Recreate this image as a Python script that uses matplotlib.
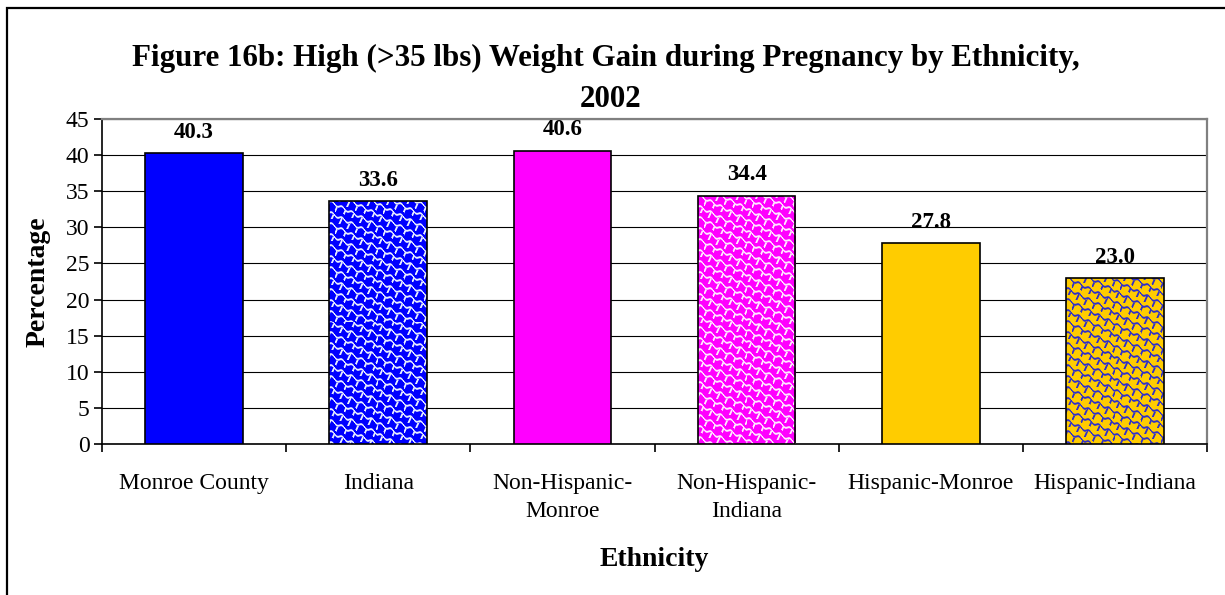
import numpy as np
import matplotlib
matplotlib.use("Agg")
import matplotlib.pyplot as plt
from matplotlib.patches import Rectangle

# ---- data -------------------------------------------------------------
categories = ["Monroe County", "Indiana", "Non-Hispanic-\nMonroe",
              "Non-Hispanic-\nIndiana", "Hispanic-Monroe", "Hispanic-Indiana"]
values = [40.3, 33.6, 40.6, 34.4, 27.8, 23.0]
y_ticks = [0, 5, 10, 15, 20, 25, 30, 35, 40, 45]

title_line1 = "Figure 16b: High (>35 lbs) Weight Gain during Pregnancy by Ethnicity,"
title_line2 = "2002"
x_label = "Ethnicity"
y_label = "Percentage"

# ---- styling ----------------------------------------------------------
base_colors = ["#0000FF", "#0000FF", "#FF00FF", "#FF00FF", "#FFCC00", "#FFCC00"]
patterned = [False, True, False, True, False, True]
pattern_colors = [None, "#E6ECFF", None, "#FFE6FF", None, "#3030C8"]

plt.rcParams["font.family"] = ["Liberation Serif", "DejaVu Serif"]

W, H, DPI = 1225, 595, 100
fig = plt.figure(figsize=(W / DPI, H / DPI), dpi=DPI)
fig.patch.set_facecolor("white")

# outer chart frame (left and top edges visible)
fig.add_artist(Rectangle((7 / W, -0.05), 1.2, 1 - 8 / H + 0.05,
                         transform=fig.transFigure, fill=False,
                         edgecolor="black", linewidth=1.6, zorder=0))

left, right, top, bottom = 102, 1207, 119, 444
ax = fig.add_axes([left / W, 1 - bottom / H, (right - left) / W, (bottom - top) / H])

n = len(categories)
x = np.arange(n)
bar_w = 0.53

ax.set_xlim(-0.5, n - 0.5)
ax.set_ylim(0, 45)


def texture(wpx, hpx, base, line):
    """Shingle-like fill: stepped diagonal rows joined by short connectors."""
    yy, xx = np.mgrid[0:hpx, 0:wpx].astype(float)
    row_period, col_period = 11.0, 10.0
    f = yy - 0.5 * xx + 1.3 * np.sin(2 * np.pi * xx / col_period)
    m = np.mod(f, row_period)
    d_row = np.minimum(m, row_period - m)
    # connectors between consecutive rows
    g = xx + 0.45 * yy
    mg = np.mod(g, col_period)
    d_col = np.minimum(mg, col_period - mg)
    in_half = (m > 1.0) & (m < row_period / 2 + 1.0)
    d_col = np.where(in_half, d_col, 99.0)
    d = np.minimum(d_row, d_col)
    alpha = np.clip(1.5 - d, 0, 1)[..., None]
    b = np.array(matplotlib.colors.to_rgb(base))
    c = np.array(matplotlib.colors.to_rgb(line))
    return b * (1 - alpha) + c * alpha


for xi, v, col, pat, pcol in zip(x, values, base_colors, patterned, pattern_colors):
    bar = ax.bar(xi, v, width=bar_w, color=col, edgecolor="none", zorder=3)[0]
    if pat:
        x0, x1 = xi - bar_w / 2, xi + bar_w / 2
        p0 = ax.transData.transform((x0, 0))
        p1 = ax.transData.transform((x1, v))
        wpx = int(round(abs(p1[0] - p0[0]))) + 1
        hpx = int(round(abs(p1[1] - p0[1]))) + 1
        img = texture(wpx, hpx, col, pcol)
        im = ax.imshow(img, extent=(x0, x1, 0, v), origin="upper",
                       interpolation="nearest", aspect="auto", zorder=3.5)
        im.set_clip_path(bar)
    ax.bar(xi, v, width=bar_w, fill=False, edgecolor="black",
           linewidth=1.2, zorder=4)
    ax.annotate(f"{v:.1f}", (xi, v), xytext=(0, 15), textcoords="offset points",
                ha="center", va="center", fontsize=16.5, fontweight="bold", zorder=5)

ax.set_xlim(-0.5, n - 0.5)
ax.set_ylim(0, 45)

# gridlines
ax.set_yticks(y_ticks)
ax.yaxis.grid(True, color="black", linewidth=0.8, zorder=1)
ax.set_axisbelow(True)

# spines
for s in ["top", "right"]:
    ax.spines[s].set_color("#808080")
    ax.spines[s].set_linewidth(1.6)
for s in ["left", "bottom"]:
    ax.spines[s].set_color("black")
    ax.spines[s].set_linewidth(1.2)

ax.tick_params(axis="y", direction="out", length=6, width=1.2, labelsize=17, pad=3)

# x ticks: marks at category boundaries, labels at category centers
ax.set_xticks(np.arange(n + 1) - 0.5)
ax.set_xticklabels([])
ax.tick_params(axis="x", which="major", direction="out", length=6, width=1.2)
ax.set_xticks(x, minor=True)
ax.set_xticklabels(categories, minor=True, fontsize=17, linespacing=1.45)
ax.tick_params(axis="x", which="minor", length=0, pad=21)

fig.text(606 / W, 1 - 66 / H, title_line1, ha="center", va="baseline",
         fontsize=22.3, fontweight="bold")
fig.text(611 / W, 1 - 107 / H, title_line2, ha="center", va="baseline",
         fontsize=22.3, fontweight="bold")
fig.text((left + right) / 2 / W, 1 - 559 / H, x_label, ha="center", va="center",
         fontsize=20, fontweight="bold")
fig.text(38 / W, 1 - 282 / H, y_label, ha="center", va="center", rotation=90,
         fontsize=20, fontweight="bold")

fig.savefig("out.png", dpi=DPI)
